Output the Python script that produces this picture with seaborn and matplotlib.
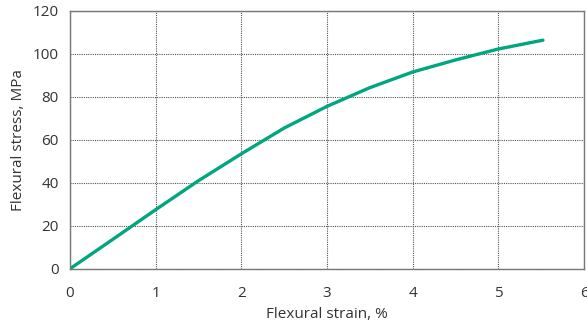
import matplotlib
matplotlib.use("Agg")
import matplotlib.pyplot as plt
import seaborn as sns
import pandas as pd

strain = [0, 0.5, 1.0, 1.5, 2.0, 2.5, 3.0, 3.5, 4.0, 4.5, 5.0, 5.52]
stress = [0, 13.7, 27.5, 41.0, 53.5, 65.5, 75.6, 84.3, 91.6, 97.2, 102.3, 106.4]
x_ticks = [0, 1, 2, 3, 4, 5, 6]
y_ticks = [0, 20, 40, 60, 80, 100, 120]

df = pd.DataFrame({"strain": strain, "stress": stress})

sns.set_theme(style="white")
plt.rcParams['font.family'] = ['Open Sans', 'DejaVu Sans']

fig = plt.figure(figsize=(5.87, 3.22), dpi=100)
ax = fig.add_axes([0.119, 0.165, 0.876, 0.801])

sns.lineplot(data=df, x="strain", y="stress", ax=ax, color="#00A67E", linewidth=2.4)

ax.set_xlim(0, 6)
ax.set_ylim(0, 120)
ax.set_xticks(x_ticks)
ax.set_yticks(y_ticks)
ax.grid(True, linestyle=(0, (1, 1)), color="#555555", linewidth=0.8)
ax.set_axisbelow(True)
for s in ax.spines.values():
    s.set_color("#777777")
    s.set_linewidth(1.0)
ax.tick_params(axis="y", length=0, labelsize=11, colors="#333333", pad=8)
ax.tick_params(axis="x", length=0, labelsize=11, colors="#333333", pad=12)
ax.set_xlabel("Flexural strain, %", fontsize=11, color="#333333", labelpad=5)
ax.set_ylabel("Flexural stress, MPa", fontsize=11, color="#333333", labelpad=5)

fig.savefig("out.png", dpi=100)
